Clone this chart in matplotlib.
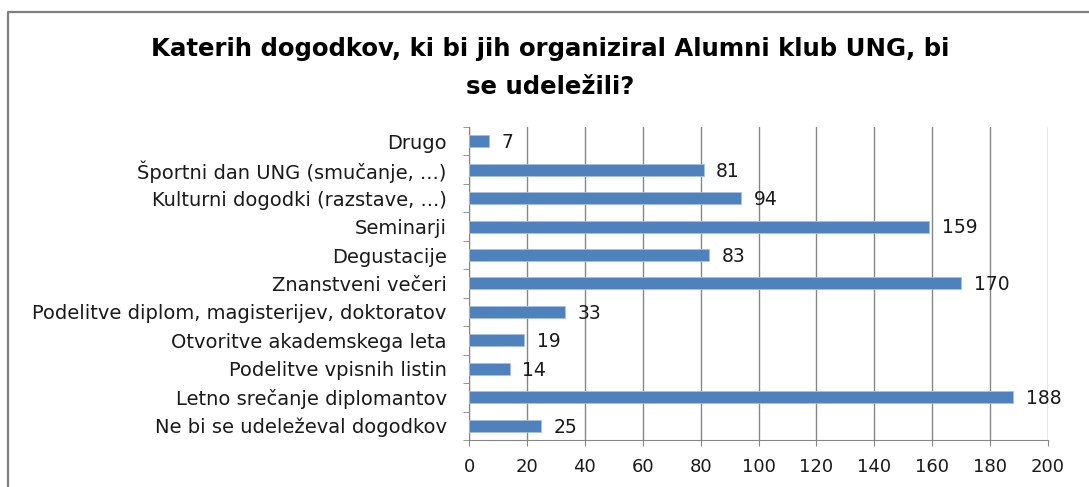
"""Horizontal bar chart: which Alumni klub UNG events people would attend."""
import matplotlib.pyplot as plt
from matplotlib.lines import Line2D

categories = [
    "Drugo",
    "Športni dan UNG (smučanje, ...)",
    "Kulturni dogodki (razstave, ...)",
    "Seminarji",
    "Degustacije",
    "Znanstveni večeri",
    "Podelitve diplom, magisterijev, doktoratov",
    "Otvoritve akademskega leta",
    "Podelitve vpisnih listin",
    "Letno srečanje diplomantov",
    "Ne bi se udeleževal dogodkov",
]
counts = [7, 81, 94, 159, 83, 170, 33, 19, 14, 188, 25]
x_ticks = list(range(0, 201, 20))

BAR = "#4F81BD"
GRID = "#868686"
FONT = "DejaVu Sans"

fig = plt.figure(figsize=(10.89, 4.87), dpi=100)
ax = fig.add_axes([0.4307, 0.0966, 0.5317, 0.6427])

pos = list(range(len(categories)))
ax.barh(pos, counts, height=0.42, color=BAR, edgecolor="#A7C0DE", linewidth=0.6, zorder=3)
for p, v in zip(pos, counts):
    ax.annotate(str(v), (v, p), xytext=(9, -1), textcoords="offset points",
                va="center", ha="left", fontsize=13.5, color="#1a1a1a", family=FONT)

ax.set_xlim(0, 200)
ax.set_ylim(len(categories) - 0.5, -0.5)
ax.set_xticks(x_ticks)
ax.set_xticklabels([str(t) for t in x_ticks], fontsize=13, family=FONT, color="#1a1a1a")
ax.set_yticks(pos)
ax.set_yticklabels(categories, fontsize=14, family=FONT, color="#1a1a1a")
ax.tick_params(axis="y", length=0, pad=16)
ax.tick_params(axis="x", length=4, color=GRID, pad=9)
# category boundary ticks on the y axis
ax.set_yticks([p - 0.5 for p in pos] + [len(pos) - 0.5], minor=True)
ax.tick_params(axis="y", which="minor", length=4, color=GRID)

ax.grid(axis="x", color=GRID, linewidth=1, zorder=0)
ax.set_axisbelow(True)
for side in ["top", "right"]:
    ax.spines[side].set_visible(False)
for side in ["left", "bottom"]:
    ax.spines[side].set_color(GRID)

fig.text(0.505, 0.861, "Katerih dogodkov, ki bi jih organiziral Alumni klub UNG, bi\nse udeležili?",
         ha="center", va="center", fontsize=17.6, fontweight="bold", family=FONT,
         linespacing=1.72)

# chart frame (only top and left edges visible in the crop)
fig.add_artist(Line2D([8 / 1089, 8 / 1089, 1], [0, 1 - 12 / 487, 1 - 12 / 487],
                      transform=fig.transFigure, color="#7f7f7f", linewidth=1.6))

fig.savefig("out.png", dpi=100)
